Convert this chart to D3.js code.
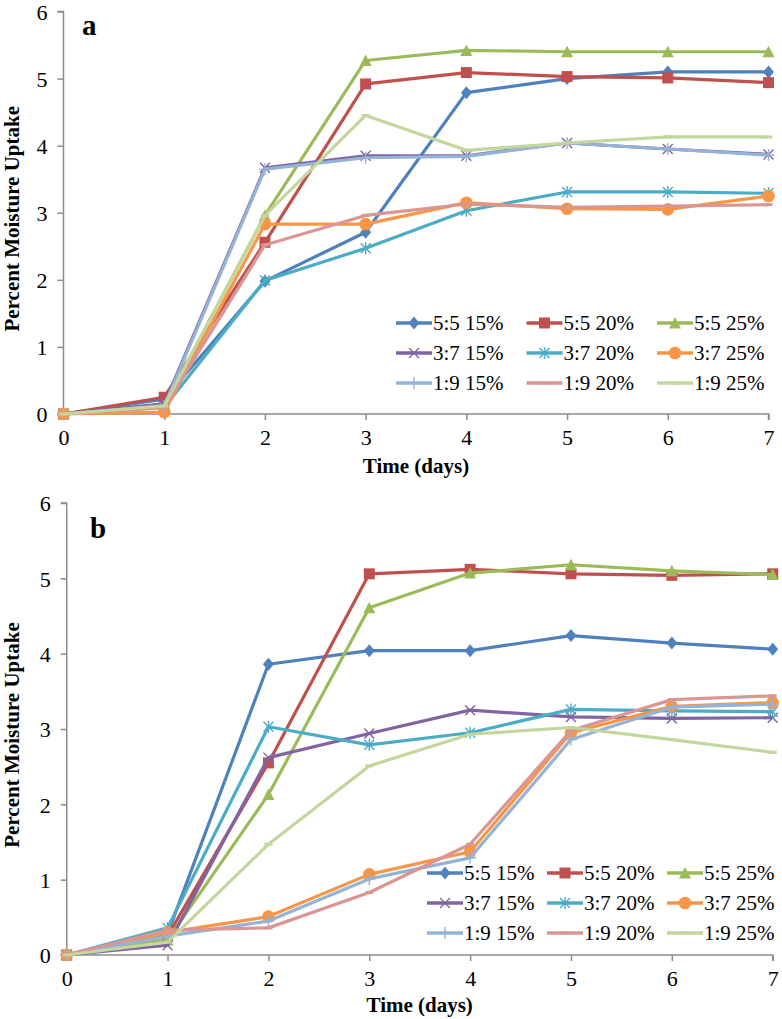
<!DOCTYPE html>
<html><head><meta charset="utf-8">
<script src="https://cdn.jsdelivr.net/npm/d3@7"></script>
<style>body{margin:0;background:#fff}svg{display:block}svg text{font-family:"Liberation Serif","Times New Roman",serif}</style>
</head><body>
<svg id="chart" width="782" height="1019"></svg>
<script>
const days = [0, 1, 2, 3, 4, 5, 6, 7];
const yTicks = [0, 1, 2, 3, 4, 5, 6];
const seriesNames = ["5:5 15%", "5:5 20%", "5:5 25%", "3:7 15%", "3:7 20%", "3:7 25%", "1:9 15%", "1:9 20%", "1:9 25%"];
const seriesColors = ["#4F81BD", "#C0504D", "#9BBB59", "#8064A2", "#4BACC6", "#F79646", "#95B3D7", "#D99694", "#C3D69B"];
const seriesMarkers = ["diamond", "square", "triangle", "x", "star", "circle", "plus", "dash", "dash"];

const panelAValues = [
  [0, 0.22, 1.98, 2.71, 4.79, 5.00, 5.10, 5.10],
  [0, 0.25, 2.56, 4.92, 5.09, 5.03, 5.01, 4.94],
  [0, 0.12, 2.96, 5.27, 5.42, 5.40, 5.40, 5.40],
  [0, 0.15, 3.67, 3.85, 3.85, 4.04, 3.95, 3.87],
  [0, 0.10, 1.99, 2.47, 3.03, 3.31, 3.31, 3.29],
  [0, 0.03, 2.83, 2.83, 3.15, 3.06, 3.05, 3.25],
  [0, 0.12, 3.65, 3.82, 3.84, 4.04, 3.95, 3.86],
  [0, 0.10, 2.52, 2.96, 3.13, 3.08, 3.10, 3.12],
  [0, 0.12, 2.96, 4.45, 3.93, 4.04, 4.13, 4.13]
];
const panelBValues = [
  [0, 0.28, 3.86, 4.04, 4.04, 4.24, 4.14, 4.06],
  [0, 0.25, 2.55, 5.06, 5.12, 5.06, 5.04, 5.06],
  [0, 0.20, 2.13, 4.61, 5.07, 5.18, 5.10, 5.05],
  [0, 0.13, 2.62, 2.94, 3.25, 3.16, 3.14, 3.15],
  [0, 0.36, 3.03, 2.79, 2.95, 3.26, 3.24, 3.23],
  [0, 0.30, 0.51, 1.07, 1.37, 2.95, 3.30, 3.35],
  [0, 0.25, 0.45, 1.01, 1.29, 2.86, 3.29, 3.33],
  [0, 0.33, 0.36, 0.83, 1.47, 2.98, 3.39, 3.44],
  [0, 0.17, 1.47, 2.51, 2.93, 3.02, 2.86, 2.69]
];

const svg = d3.select("#chart");
const serif = '"Liberation Serif","Times New Roman",serif';
const axisColor = "#8c8c8c";

function markerPath(type) {
  switch (type) {
    case "diamond": return "M0,-6.5L5.5,0L0,6.5L-5.5,0Z";
    case "square": return "M-5.5,-5.5H5.5V5.5H-5.5Z";
    case "triangle": return "M0,-6L6,5.5H-6Z";
    case "x": return "M-5,-5L5,5M-5,5L5,-5";
    case "star": return "M-5,-5L5,5M-5,5L5,-5M0,-6V6";
    case "plus": return "M0,-6V6M-6,0H6";
    case "dash": return "M-4,0H4";
  }
  return "";
}
function drawMarker(g, type, color, x, y) {
  const filled = ["diamond", "square", "triangle"].includes(type);
  if (type === "circle") {
    g.append("circle").attr("cx", x).attr("cy", y).attr("r", 6.3).attr("fill", color);
  } else if (filled) {
    g.append("path").attr("d", markerPath(type)).attr("transform", `translate(${x},${y})`).attr("fill", color);
  } else {
    g.append("path").attr("d", markerPath(type)).attr("transform", `translate(${x},${y})`)
      .attr("fill", "none").attr("stroke", color).attr("stroke-width", type === "dash" ? 3 : 1.4);
  }
}

function drawPanel(cfg) {
  const x = d3.scaleLinear().domain([0, 7]).range([cfg.x0, cfg.x1]);
  const y = d3.scaleLinear().domain([0, 6]).range([cfg.y0, cfg.y1]);
  const g = svg.append("g");

  const yAxis = d3.axisLeft(y).tickValues(yTicks).tickSize(6).tickPadding(10).tickFormat(d3.format("d"));
  const ya = g.append("g").attr("transform", `translate(${cfg.x0},0)`).call(yAxis);
  const xAxis = d3.axisBottom(x).tickValues(days).tickSize(6).tickPadding(8).tickFormat(d3.format("d"));
  const xa = g.append("g").attr("transform", `translate(0,${cfg.y0})`).call(xAxis);
  [ya, xa].forEach(a => {
    a.attr("font-family", null);
    a.select(".domain").attr("stroke", axisColor).attr("stroke-width", 1.5);
    a.selectAll(".tick line").attr("stroke", axisColor).attr("stroke-width", 1.5);
    a.selectAll(".tick text").attr("fill", "#000").style("font-family", serif).style("font-size", "22px");
  });
  ya.select(".domain").attr("d", `M-6,${cfg.y1}H0V${cfg.y0}`);
  xa.select(".domain").attr("d", `M${cfg.x0},0H${cfg.x1}V6`);
  xa.selectAll(".tick text").attr("dy", "0.75em");
  ya.selectAll(".tick text").attr("dy", "0.36em");

  const line = d3.line().x((d, i) => x(days[i])).y(d => y(d));
  cfg.values.forEach((vals, si) => {
    const sg = g.append("g");
    sg.append("path").datum(vals).attr("d", line).attr("fill", "none")
      .attr("stroke", seriesColors[si]).attr("stroke-width", 3.2).attr("stroke-linejoin", "round");
    vals.forEach((v, i) => drawMarker(sg, seriesMarkers[si], seriesColors[si], x(days[i]), y(v)));
  });

  g.append("text").attr("x", (cfg.x0 + cfg.x1) / 2).attr("y", cfg.xTitleY).attr("text-anchor", "middle")
    .style("font-family", serif).attr("font-weight", "bold").style("font-size", "21px").text("Time (days)");
  g.append("text").attr("transform", `translate(${cfg.yTitleX},${(cfg.y0 + cfg.y1) / 2 + 6}) rotate(-90)`)
    .attr("text-anchor", "middle").style("font-family", serif).attr("font-weight", "bold").style("font-size", "21px")
    .text("Percent Moisture Uptake");
  g.append("text").attr("x", cfg.labelX).attr("y", cfg.labelY).style("font-family", serif)
    .attr("font-weight", "bold").style("font-size", "29px").text(cfg.label);

  const lg = g.append("g");
  seriesNames.forEach((name, i) => {
    const col = i % 3, row = Math.floor(i / 3);
    const lx = cfg.legX + col * cfg.legColW, ly = cfg.legY + row * 30;
    lg.append("line").attr("x1", lx).attr("x2", lx + 36).attr("y1", ly).attr("y2", ly)
      .attr("stroke", seriesColors[i]).attr("stroke-width", 3.5);
    drawMarker(lg, seriesMarkers[i], seriesColors[i], lx + 18, ly);
    lg.append("text").attr("x", lx + 37).attr("y", ly).attr("dy", "0.33em")
      .style("font-family", serif).style("font-size", "21px").text(name);
  });
}

drawPanel({values: panelAValues, x0: 63.5, x1: 768.5, y0: 414, y1: 11.5, xTitleY: 473, yTitleX: 19,
  label: "a", labelX: 82, labelY: 35, legX: 396, legY: 323, legColW: 130.5});
drawPanel({values: panelBValues, x0: 66.7, x1: 772.7, y0: 955, y1: 503, xTitleY: 1012, yTitleX: 19,
  label: "b", labelX: 90, labelY: 538, legX: 427, legY: 873, legColW: 120});
</script>
</body></html>
